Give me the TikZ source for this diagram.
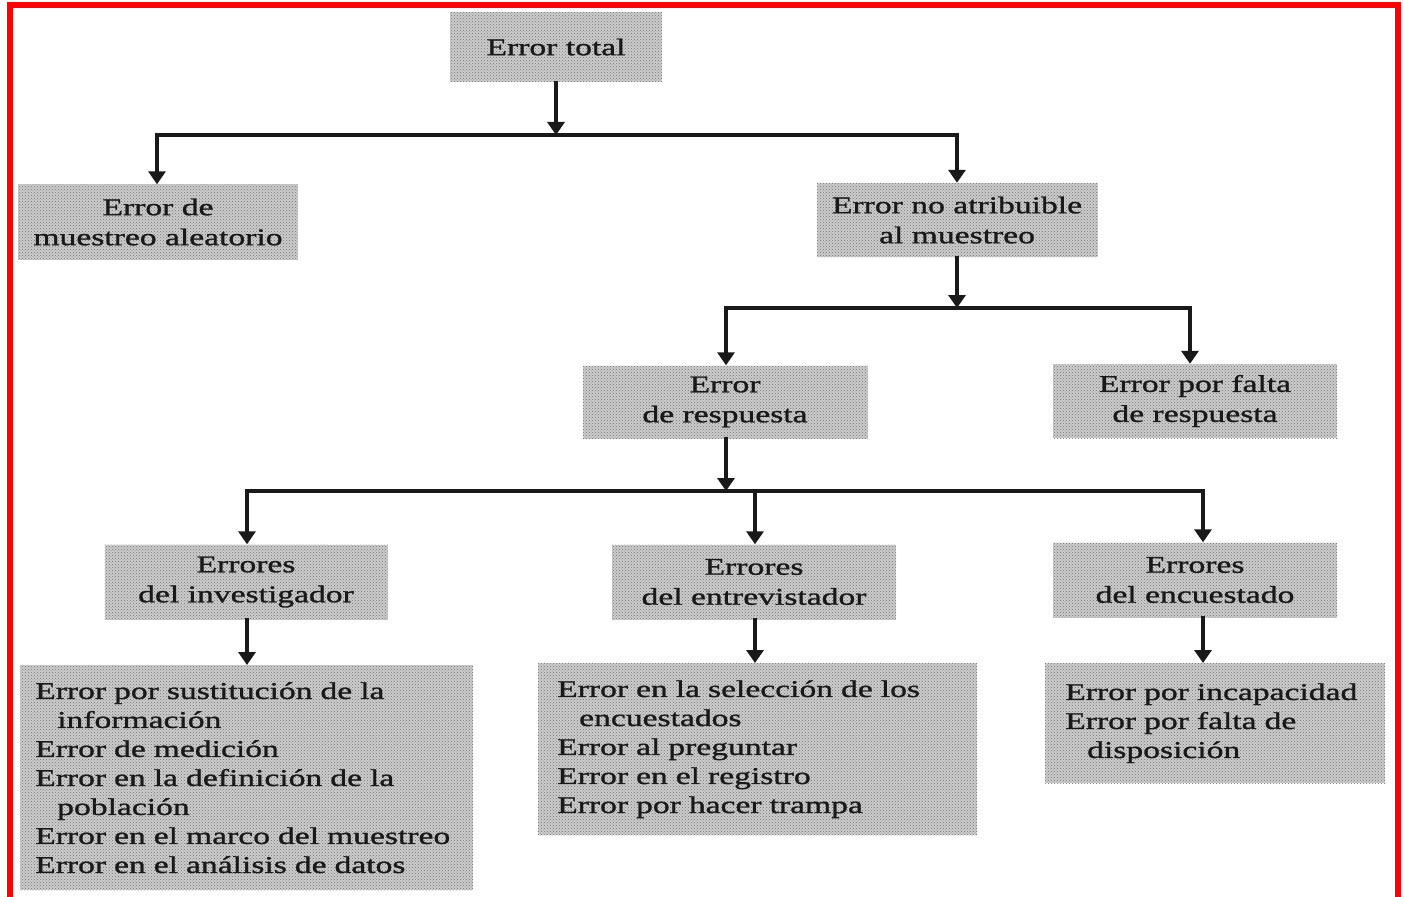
\documentclass[tikz,border=0pt]{standalone}
\usepackage{fontspec}
\setmainfont[FakeStretch=1.4,FakeBold=1.2]{Liberation Serif}
\usetikzlibrary{arrows.meta,patterns}

\begin{document}
\begin{tikzpicture}[x=1pt,y=-1pt,
  box/.style={fill=black!20, postaction={pattern=crosshatch dots, pattern color=black!55},
    inner sep=0pt, text=black!90, font=\fontsize{24}{30}\selectfont, align=center},
  listbox/.style={box, anchor=north west, align=left, font=\fontsize{24}{29}\selectfont},
  link/.style={line width=3.2pt, draw=black!90, line cap=rect},
  arr/.style={link, -{Triangle[width=17pt,length=13pt]}}]
\useasboundingbox (0,0) rectangle (1404,896);
\fill[white] (0,0) rectangle (1404,896);

% first level
\node[box, minimum width=212pt, minimum height=70pt] (total) at (556,47) {Error total};
\node[box, minimum width=280pt, minimum height=75pt] (aleat) at (158,222) {Error de\\muestreo aleatorio};
\node[box, minimum width=281pt, minimum height=74pt] (noatr) at (957,220) {Error no atribuible\\al muestreo};

% second level
\node[box, minimum width=285pt, minimum height=73pt] (resp) at (725,402) {Error\\de respuesta};
\node[box, minimum width=284pt, minimum height=74pt] (nresp) at (1195,401) {Error por falta\\de respuesta};

% sources of response error
\node[box, minimum width=283pt, minimum height=75pt] (inv) at (246,582) {Errores\\del investigador};
\node[box, minimum width=284pt, minimum height=75pt] (entr) at (754,582) {Errores\\del entrevistador};
\node[box, minimum width=284pt, minimum height=75pt] (encu) at (1195,580) {Errores\\del encuestado};

% detailed lists
\node[listbox, minimum width=453pt, minimum height=225pt, text width=423pt, inner xsep=15pt] (invl) at (20,665)
  {Error por sustitución de la\\\hspace*{22pt}información\\Error de medición\\Error en la definición de la\\\hspace*{22pt}población\\Error en el marco del muestreo\\Error en el análisis de datos};
\node[listbox, minimum width=439pt, minimum height=172pt, text width=401pt, inner xsep=19pt] (entrl) at (538,663)
  {Error en la selección de los\\\hspace*{22pt}encuestados\\Error al preguntar\\Error en el registro\\Error por hacer trampa};
\node[listbox, minimum width=340pt, minimum height=120pt, text width=300pt, inner xsep=20pt] (encul) at (1045,663)
  {Error por incapacidad\\Error por falta de\\\hspace*{22pt}disposición};

% connectors: total error
\coordinate (t0) at (556,135);
\coordinate (t1) at (157,135);
\coordinate (t2) at (957,135);
\draw[arr] (total.south) -- (t0);
\draw[link] (t1) -- (t2);
\draw[arr] (t1) -- (t1 |- aleat.north);
\draw[arr] (t2) -- (t2 |- noatr.north);

% connectors: non-sampling error
\coordinate (u0) at (957,308);
\coordinate (u1) at (726,308);
\coordinate (u2) at (1190,308);
\draw[arr] (noatr.south) -- (u0);
\draw[link] (u1) -- (u2);
\draw[arr] (u1) -- (u1 |- resp.north);
\draw[arr] (u2) -- (u2 |- nresp.north);

% connectors: response error
\coordinate (w0) at (726,491);
\coordinate (w1) at (247,491);
\coordinate (w2) at (755,491);
\coordinate (w3) at (1203,491);
\draw[arr] (resp.south -| w0) -- (w0);
\draw[link] (w1) -- (w3);
\draw[arr] (w1) -- (w1 |- inv.north);
\draw[arr] (w2) -- (w2 |- entr.north);
\draw[arr] (w3) -- (w3 |- encu.north);

% connectors to the lists
\draw[arr] (w1 |- inv.south) -- (w1 |- invl.north);
\draw[arr] (w2 |- entr.south) -- (w2 |- entrl.north);
\draw[arr] (w3 |- encu.south) -- (w3 |- encul.north);

% page frame
\draw[red, line width=6.5pt] (10,910) -- (10,5) -- (1398,5) -- (1398,910);
\end{tikzpicture}
\end{document}
